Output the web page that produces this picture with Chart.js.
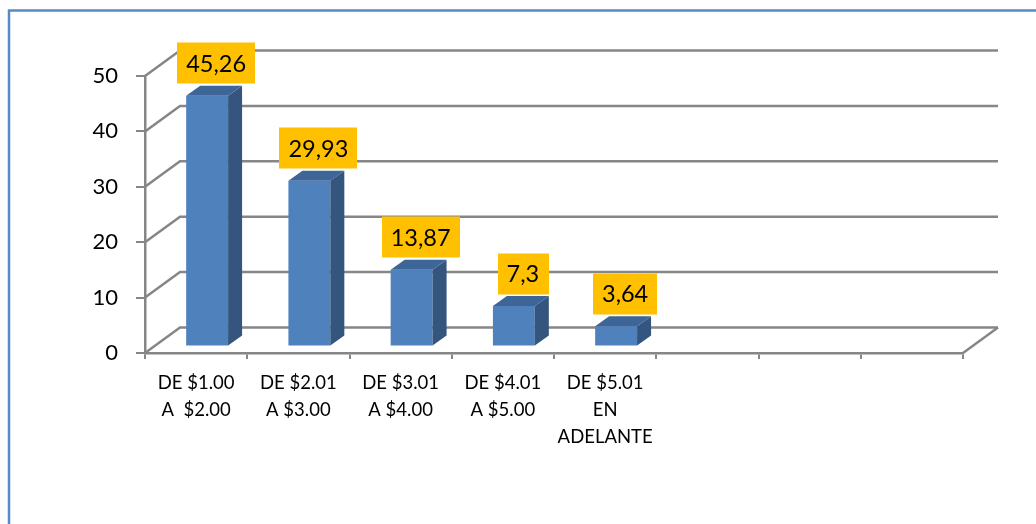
<!DOCTYPE html>
<html>
<head>
<meta charset="utf-8">
<script src="https://cdn.jsdelivr.net/npm/chart.js@4/dist/chart.umd.min.js"></script>
<style>
  html, body { margin: 0; padding: 0; background: #fff; }
  #wrap { width: 1036px; height: 524px; position: relative; }
</style>
</head>
<body>
<div id="wrap"><canvas id="chart"></canvas></div>
<script>
// Price ranges (the last three slots are empty on the category axis)
const categories = [
  ['DE $1.00', 'A  $2.00'],
  ['DE $2.01', 'A $3.00'],
  ['DE $3.01', 'A $4.00'],
  ['DE $4.01', 'A $5.00'],
  ['DE $5.01', 'EN', 'ADELANTE'],
  '', '', ''
];
// Percentage of answers per price range
const values = [45.26, 29.93, 13.87, 7.3, 3.64, null, null, null];
// Value axis
const yMin = 0;
const yMax = 50;
const yStep = 10;

const FONT = 'Lato, "Open Sans", "DejaVu Sans", sans-serif';
const GRID = '#868686';
const FRONT = '#4F81BD';
const SIDE = '#34567E';
const TOP = '#3E6597';
const WALL_DX = 35, WALL_DY = -25.5;   // depth of the 3D box
const BAR_DX = 11, BAR_DY = -6.5;      // bars sit inside the box
const BAR_DEPTH_X = 14, BAR_DEPTH_Y = -10;

function fmt(v) { return String(v).replace('.', ','); }

// Outer frame of the chart object
const framePlugin = {
  id: 'frame',
  afterDraw(chart) {
    const ctx = chart.ctx;
    ctx.save();
    ctx.strokeStyle = '#5A8AC6';
    ctx.lineWidth = 2.5;
    ctx.strokeRect(9, 10.5, 1200, 800);
    ctx.restore();
  }
};

// Side wall, back wall and floor of the 3D box
const wallsPlugin = {
  id: 'walls',
  beforeDatasetsDraw(chart) {
    const ctx = chart.ctx;
    const { left, right } = chart.chartArea;
    const y = chart.scales.y;
    ctx.save();
    ctx.strokeStyle = GRID;
    ctx.lineWidth = 2.5;
    ctx.lineCap = 'butt';
    for (let v = yMin; v <= yMax; v += yStep) {
      const py = y.getPixelForValue(v);
      ctx.beginPath();
      ctx.moveTo(left, py);
      ctx.lineTo(left + WALL_DX, py + WALL_DY);
      ctx.lineTo(right + WALL_DX, py + WALL_DY);
      ctx.stroke();
    }
    const p0 = y.getPixelForValue(yMin);
    ctx.beginPath();
    ctx.moveTo(right, p0);
    ctx.lineTo(right + WALL_DX, p0 + WALL_DY);
    ctx.stroke();
    ctx.restore();
  }
};

// Bars: shifted into the box, with side/top faces and value boxes
const bars3dPlugin = {
  id: 'bars3d',
  beforeDatasetsDraw(chart) {
    chart.ctx.save();
    chart.ctx.translate(BAR_DX, BAR_DY);
  },
  afterDatasetsDraw(chart) {
    const ctx = chart.ctx;
    const meta = chart.getDatasetMeta(0);
    meta.data.forEach((bar, i) => {
      if (values[i] == null) return;
      const { x, y, base, width } = bar.getProps(['x', 'y', 'base', 'width'], true);
      const l = x - width / 2, r = x + width / 2;
      // side face
      ctx.fillStyle = SIDE;
      ctx.beginPath();
      ctx.moveTo(r, y);
      ctx.lineTo(r + BAR_DEPTH_X, y + BAR_DEPTH_Y);
      ctx.lineTo(r + BAR_DEPTH_X, base + BAR_DEPTH_Y);
      ctx.lineTo(r, base);
      ctx.closePath();
      ctx.fill();
      // top face
      ctx.fillStyle = TOP;
      ctx.beginPath();
      ctx.moveTo(l, y);
      ctx.lineTo(l + BAR_DEPTH_X, y + BAR_DEPTH_Y);
      ctx.lineTo(r + BAR_DEPTH_X, y + BAR_DEPTH_Y);
      ctx.lineTo(r, y);
      ctx.closePath();
      ctx.fill();
    });
    // value labels
    ctx.font = '23.5px ' + FONT;
    ctx.textAlign = 'center';
    ctx.textBaseline = 'middle';
    meta.data.forEach((bar, i) => {
      if (values[i] == null) return;
      const { x, y } = bar.getProps(['x', 'y'], true);
      const txt = fmt(values[i]);
      const w = ctx.measureText(txt).width + 18;
      const h = 41;
      const cx = x + 9;
      const bottom = y + BAR_DEPTH_Y - 2;
      ctx.fillStyle = '#FFC000';
      ctx.fillRect(Math.round(cx - w / 2), Math.round(bottom - h), Math.round(w), h);
      ctx.fillStyle = '#000';
      ctx.fillText(txt, cx, bottom - h / 2 + 1);
    });
    ctx.restore();
  }
};

function build() {
  new Chart(document.getElementById('chart'), {
    type: 'bar',
    data: {
      labels: categories,
      datasets: [{
        data: values,
        backgroundColor: FRONT,
        borderWidth: 0,
        barPercentage: 0.41,
        categoryPercentage: 1
      }]
    },
    options: {
      responsive: true,
      maintainAspectRatio: false,
      animation: false,
      events: [],
      layout: { padding: { left: 0, top: 76, right: 73, bottom: 0 } },
      plugins: { legend: { display: false }, tooltip: { enabled: false } },
      scales: {
        x: {
          offset: true,
          grid: { offset: true, drawOnChartArea: false, drawTicks: true, tickLength: 6, color: GRID, lineWidth: 2 },
          border: { display: true, color: GRID, width: 2.5 },
          ticks: {
            color: '#000', autoSkip: false, maxRotation: 0, padding: 11,
            font: { family: FONT, size: 18.5, lineHeight: 27 / 18.5 }
          },
          afterFit(scale) { scale.height = 524 - 353; }
        },
        y: {
          min: yMin, max: yMax,
          grid: { drawOnChartArea: false, drawTicks: true, tickLength: 9, color: GRID, lineWidth: 2 },
          border: { display: true, color: GRID, width: 2.5 },
          ticks: {
            stepSize: yStep, color: '#000', padding: 18,
            font: { family: FONT, size: 22 }
          },
          afterFit(scale) { scale.width = 145; }
        }
      }
    },
    plugins: [wallsPlugin, bars3dPlugin, framePlugin]
  });
}

if (document.fonts && document.fonts.load) {
  Promise.all([document.fonts.load('23px Lato'), document.fonts.load('18px Lato')])
    .then(build, build);
} else {
  build();
}
</script>
</body>
</html>
